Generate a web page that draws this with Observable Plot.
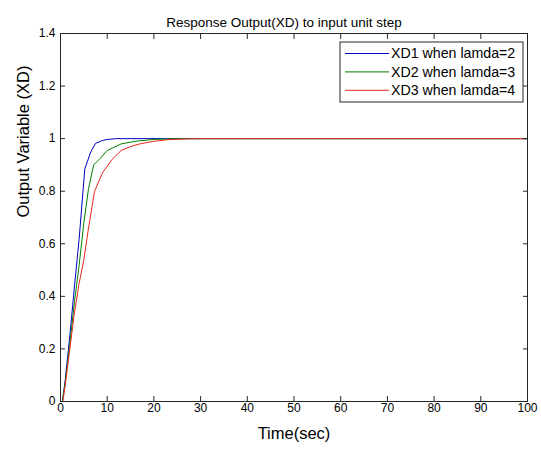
<!DOCTYPE html>
<html>
<head>
<meta charset="utf-8">
<script src="https://cdn.jsdelivr.net/npm/d3@7"></script>
<script src="https://cdn.jsdelivr.net/npm/@observablehq/plot@0.6"></script>
<style>
  html, body { margin: 0; padding: 0; background: #fff; }
  svg { font-family: "Liberation Sans", Arial, sans-serif; }
</style>
</head>
<body>
<div id="chart"></div>
<script>
const title = "Response Output(XD) to input unit step";
const xLabel = "Time(sec)";
const yLabel = "Output Variable (XD)";
const seriesNames = ["XD1 when lamda=2", "XD2 when lamda=3", "XD3 when lamda=4"];
const seriesColors = ["#0000c0", "#008000", "#e8281e"];

const t1 = [0, 0.4, 1, 2, 3, 4, 5.2, 6.5, 7.5, 9, 10, 12, 15, 100];
const xd1 = [0, 0, 0.08, 0.25, 0.44, 0.62, 0.885, 0.95, 0.982, 0.993, 0.997, 1.0, 1.0, 1.0];

const t2 = [0, 0.4, 1, 2, 3, 4, 5, 6, 7.1, 8.5, 10, 13, 16, 20, 25, 100];
const xd2 = [0, 0, 0.07, 0.22, 0.38, 0.52, 0.68, 0.81, 0.90, 0.925, 0.955, 0.98, 0.99, 0.997, 1, 1];

const t3 = [0, 0.5, 1, 2, 3, 4, 5, 6, 7.3, 9, 11, 13, 15, 17, 20, 23, 27, 30, 100];
const xd3 = [0, 0, 0.06, 0.2, 0.34, 0.45, 0.54, 0.66, 0.80, 0.87, 0.92, 0.955, 0.97, 0.98, 0.99, 0.996, 0.999, 1, 1];

const xTicks = [0, 10, 20, 30, 40, 50, 60, 70, 80, 90, 100];
const yTicks = [0, 0.2, 0.4, 0.6, 0.8, 1, 1.2, 1.4];

const times = [t1, t2, t3];
const values = [xd1, xd2, xd3];
const data = [];
seriesNames.forEach((name, i) => {
  times[i].forEach((t, j) => data.push({series: name, t, v: values[i][j]}));
});

const fmtY = d => String(+d.toFixed(1));
const axisColor = "#262626";

const chart = Plot.plot({
  width: 541,
  height: 450,
  marginLeft: 60,
  marginRight: 14,
  marginTop: 33,
  marginBottom: 49,
  style: {fontFamily: "'Liberation Sans', Arial, sans-serif", fontSize: "12px", color: "#000", background: "#fff"},
  x: {domain: [0, 100]},
  y: {domain: [0, 1.4]},
  color: {domain: seriesNames, range: seriesColors},
  marks: [
    Plot.line(data, {x: "t", y: "v", z: "series", stroke: "series", strokeWidth: 1}),
    Plot.frame({stroke: axisColor, strokeWidth: 1}),
    Plot.axisX({anchor: "bottom", ticks: xTicks, tickSize: -5, tickPadding: 7, label: null, stroke: axisColor, fontSize: 12}),
    Plot.axisX({anchor: "top", ticks: xTicks, tickSize: -5, tickFormat: () => "", label: null, stroke: axisColor}),
    Plot.axisY({anchor: "left", ticks: yTicks, tickSize: -5, tickPadding: 10, tickFormat: fmtY, label: null, stroke: axisColor, fontSize: 12}),
    Plot.axisY({anchor: "right", ticks: yTicks, tickSize: -5, tickFormat: () => "", label: null, stroke: axisColor}),
    Plot.text([xLabel], {frameAnchor: "bottom", dy: 37, fontSize: 16.5, text: d => d}),
    Plot.text([yLabel], {frameAnchor: "left", rotate: -90, dx: -37, fontSize: 16.5, text: d => d}),
    Plot.text([title], {frameAnchor: "top", dy: -16, dx: -10, fontSize: 13.5, text: d => d})
  ]
});

document.getElementById("chart").appendChild(chart);

// Legend (MATLAB-style box in upper right)
const svg = d3.select(chart);
const lg = svg.append("g").attr("class", "legend").attr("text-anchor", "start");
const lx = 340, ly = 42, lw = 183, lh = 60;
lg.append("rect").attr("x", lx).attr("y", ly).attr("width", lw).attr("height", lh)
  .attr("fill", "#fff").attr("stroke", axisColor).attr("stroke-width", 1);
seriesNames.forEach((name, i) => {
  const y = ly + 11.5 + i * 18.4;
  lg.append("line").attr("x1", lx + 5).attr("x2", lx + 49).attr("y1", y).attr("y2", y)
    .attr("stroke", seriesColors[i]).attr("stroke-width", 1);
  lg.append("text").attr("x", lx + 51).attr("y", y).attr("dy", "0.35em")
    .attr("text-anchor", "start")
    .attr("font-size", 14.2).attr("fill", "#000").text(name);
});
</script>
</body>
</html>
